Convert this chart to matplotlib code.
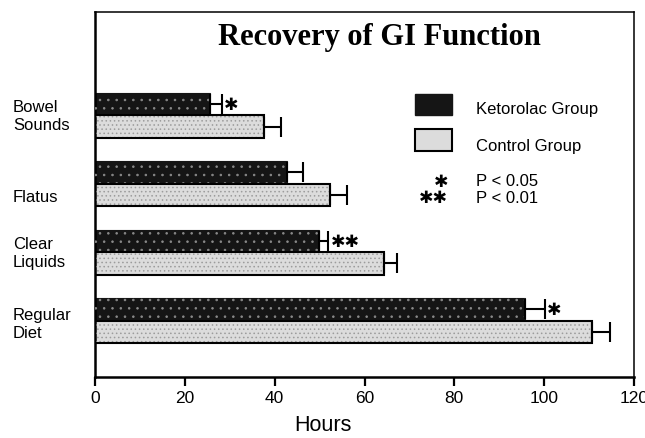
import numpy as np
import matplotlib
matplotlib.use("Agg")
import matplotlib.pyplot as plt
from matplotlib.patches import Rectangle
from matplotlib.transforms import blended_transform_factory

plt.rcParams['font.family'] = ['Liberation Sans', 'DejaVu Sans']
plt.rcParams['hatch.linewidth'] = 0.6

categories = ["Bowel\nSounds", "Flatus", "Clear\nLiquids", "Regular\nDiet"]
label_shift = [0.0, -0.18, 0.0, -0.05]
keto = [25.6, 42.8, 49.9, 95.7]
keto_err = [2.6, 3.5, 2.0, 4.4]
ctrl = [37.7, 52.3, 64.3, 110.7]
ctrl_err = [3.7, 3.7, 2.9, 4.0]
signif = ["\u2731", "", "\u2731\u2731", "\u2731"]
xticks = [0, 20, 40, 60, 80, 100, 120]

W, H = 645, 439
fig = plt.figure(figsize=(W / 100, H / 100), dpi=100)
ax = fig.add_axes([95 / W, 1 - 378.3 / H, 539 / W, 365.6 / H])

pos = np.arange(len(categories))[::-1]
h = 0.33
yk = pos + h / 2
yc = pos - h / 2

# ketorolac: black with white speckle
ax.barh(yk, keto, height=h, color='#151515', edgecolor='#151515', linewidth=0.8, zorder=2)
ax.barh(yk, keto, height=h, facecolor='none', edgecolor='#8a8a8a', hatch='..', linewidth=0, zorder=3)
# control: light grey speckle with black outline
ax.barh(yc, ctrl, height=h, color='#dcdcdc', edgecolor='none', zorder=2)
ax.barh(yc, ctrl, height=h, facecolor='none', edgecolor='#9c9c9c', hatch='....', linewidth=0, zorder=3)
ax.barh(yc, ctrl, height=h, facecolor='none', edgecolor='black', linewidth=1.5, zorder=4)

zeros = np.zeros(len(keto))
ax.errorbar(keto, yk, xerr=[zeros, keto_err], fmt='none', ecolor='black',
            elinewidth=1.5, capsize=7.2, capthick=1.5, zorder=5)
ax.errorbar(ctrl, yc, xerr=[zeros, ctrl_err], fmt='none', ecolor='black',
            elinewidth=1.5, capsize=7.2, capthick=1.5, zorder=5)

for v, e, y, s in zip(keto, keto_err, yk, signif):
    if s:
        ax.text(v + e + 0.6, y, s, ha='left', va='center', fontsize=12.5,
                family=['DejaVu Sans'], zorder=6)

ax.set_xlim(0, 120)
ax.set_ylim(-0.83, 4.515)
ax.set_xticks(xticks)
ax.set_yticks([])
ax.tick_params(axis='x', direction='out', length=6.5, width=1.6, labelsize=12.5, pad=3)
for side in ['left', 'bottom']:
    ax.spines[side].set_linewidth(1.8)
for side in ['top', 'right']:
    ax.spines[side].set_linewidth(1.1)

# category labels at the left margin
tr = blended_transform_factory(fig.transFigure, ax.transData)
for p, lab, sh in zip(pos, categories, label_shift):
    ax.text(13 / W, p + sh, lab, transform=tr, ha='left', va='center',
            fontsize=12, linespacing=1.25, clip_on=False)

# hand-made legend
ax.add_patch(Rectangle((0.594, 0.7175), 0.0686, 0.0574, transform=ax.transAxes,
                       facecolor='#151515', edgecolor='#151515', hatch='..', zorder=3))
ax.add_patch(Rectangle((0.594, 0.619), 0.0686, 0.0596, transform=ax.transAxes,
                       facecolor='#dcdcdc', edgecolor='black', linewidth=1.5, zorder=3))
ax.text(0.707, 0.736, "Ketorolac Group", transform=ax.transAxes, va='center', fontsize=12)
ax.text(0.707, 0.634, "Control Group", transform=ax.transAxes, va='center', fontsize=12)
ax.text(0.655, 0.538, "\u2731", transform=ax.transAxes, ha='right', va='center',
        fontsize=12.5, family=['DejaVu Sans'])
ax.text(0.707, 0.538, "P < 0.05", transform=ax.transAxes, va='center', fontsize=12)
ax.text(0.655, 0.493, "\u2731\u2731", transform=ax.transAxes, ha='right', va='center',
        fontsize=12.5, family=['DejaVu Sans'])
ax.text(0.707, 0.493, "P < 0.01", transform=ax.transAxes, va='center', fontsize=12)

fig.text(379 / W, 1 - 37 / H, "Recovery of GI Function", ha='center', va='center',
         family='Liberation Serif', weight='bold', fontsize=22)
fig.text(0.5, 1 - 426 / H, "Hours", ha='center', va='center', fontsize=15.5)

fig.savefig("out.png", dpi=100)
